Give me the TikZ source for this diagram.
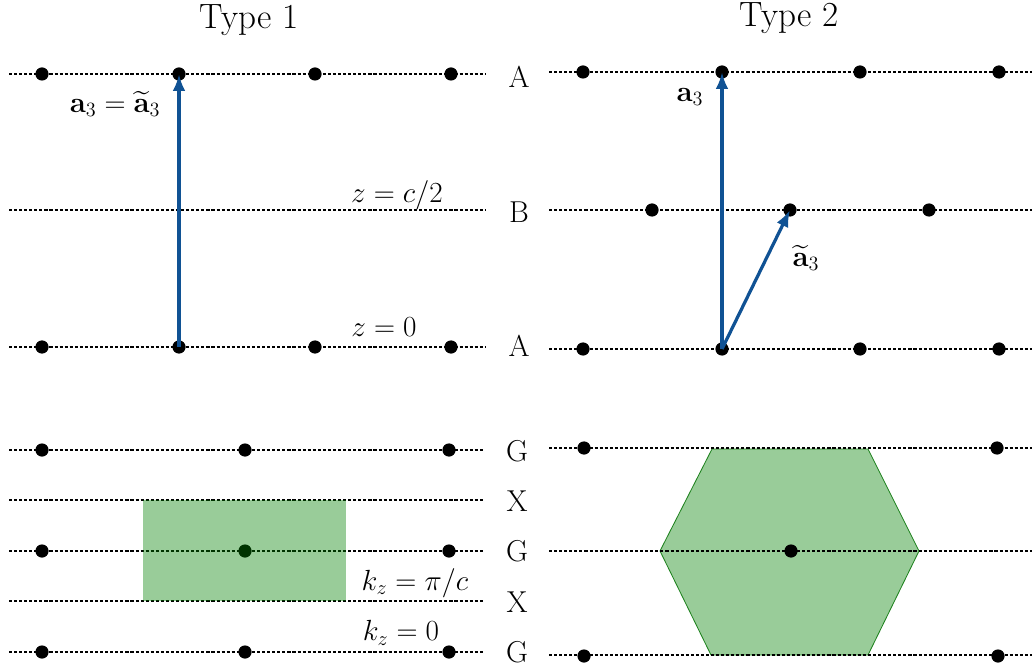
\documentclass[tikz,border=0pt]{standalone}
\usetikzlibrary{arrows.meta}
\usepackage{amsmath}
\definecolor{vecblue}{RGB}{16,82,148}
\definecolor{bzfill}{RGB}{0,128,0}
\definecolor{bzedge}{RGB}{30,130,30}
\begin{document}
\begin{tikzpicture}[x=0.025cm,y=-0.025cm,
  layer/.style={dash pattern=on 2.2pt off 1.4pt, line width=0.9pt},
  site/.style={circle, fill=black, inner sep=0pt, minimum size=0.33cm},
  vec/.style={draw=vecblue, line width=2.3pt, -{Latex[length=12pt,width=9pt]}},
  lab/.style={font=\fontsize{21.5}{24}\selectfont},
  mlab/.style={font=\fontsize{22}{24}\selectfont},
  ttl/.style={font=\fontsize{25}{28}\selectfont}]
\useasboundingbox (0,0) rectangle (1032,669);

% titles
\node[ttl] (t1) at (249,20) {Type 1};
\node[ttl] (t2) at (789,18) {Type 2};

% ---------- Type 1, real space ----------
\coordinate (l1a) at (9,74);  \coordinate (r1a) at (486,74);
\coordinate (l1b) at (9,210); \coordinate (r1b) at (486,210);
\coordinate (l1c) at (9,347); \coordinate (r1c) at (486,347);
\draw[layer] (l1a) -- (r1a);
\draw[layer] (l1b) -- (r1b);
\draw[layer] (l1c) -- (r1c);
\foreach \x [count=\i] in {42,179,315,451} {
  \node[site] (ta\i) at (\x,74) {};
  \node[site] (tc\i) at (\x,347) {};
}
\draw[vec] (tc2.center) -- (ta2.center);
\node[mlab] (lbl1) at (115,104) {$\mathbf{a}_3=\widetilde{\mathbf{a}}_3$};
\node[mlab] (zc) at (397,195) {$z=c/2$};
\node[mlab] (z0) at (384,327) {$z=0$};

% layer labels
\node[lab] (LA1) at (519,77) {A};
\node[lab] (LB)  at (519,212) {B};
\node[lab] (LA2) at (519,346) {A};

% ---------- Type 2, real space ----------
\coordinate (l2a) at (549,72);  \coordinate (r2a) at (1032,72);
\coordinate (l2b) at (549,210); \coordinate (r2b) at (1032,210);
\coordinate (l2c) at (549,349); \coordinate (r2c) at (1032,349);
\draw[layer] (l2a) -- (r2a);
\draw[layer] (l2b) -- (r2b);
\draw[layer] (l2c) -- (r2c);
\foreach \x [count=\i] in {583,722,860,999} {
  \node[site] (sa\i) at (\x,72) {};
  \node[site] (sc\i) at (\x,349) {};
}
\foreach \x [count=\i] in {652,790,929} {
  \node[site] (sb\i) at (\x,210) {};
}
\draw[vec] (sc2.center) -- (sa2.center);
\draw[vec] (sc2.center) -- (sb2.center);
\node[mlab] (lbl2) at (690,97) {$\mathbf{a}_3$};
\node[mlab] (lbl3) at (806,258) {$\widetilde{\mathbf{a}}_3$};

% ---------- Type 1, reciprocal space ----------
\foreach \y/\n in {450/g1,500/x1,551/g2,601/x2,652/g3} {
  \coordinate (L\n) at (9,\y); \coordinate (R\n) at (483,\y);
  \draw[layer] (L\n) -- (R\n);
}
\foreach \x [count=\i] in {42,245,449} {
  \node[site] (ga\i) at (\x,450) {};
  \node[site] (gb\i) at (\x,551) {};
  \node[site] (gc\i) at (\x,652) {};
}
\fill[bzfill, fill opacity=0.4] (143,500) rectangle (346,601);
\node[mlab] (kpi) at (415,583) {$k_z=\pi/c$};
\node[mlab] (k0) at (401,633) {$k_z=0$};
\node[lab] (G1) at (517,451) {G};
\node[lab] (X1) at (517,501) {X};
\node[lab] (G2) at (517,551) {G};
\node[lab] (X2) at (517,602) {X};
\node[lab] (G3) at (517,652) {G};

% ---------- Type 2, reciprocal space ----------
\fill[bzfill, fill opacity=0.4, draw=bzedge, draw opacity=1, line width=0.6pt]
  (712,449) -- (868,449) -- (919,551) -- (868,655) -- (711,655) -- (660,551) -- cycle;
\foreach \y/\n in {448/h1,551/h2,655/h3} {
  \coordinate (L\n) at (549,\y); \coordinate (R\n) at (1032,\y);
  \draw[layer] (L\n) -- (R\n);
}
\node[site] (ha1) at (584,448) {};
\node[site] (ha2) at (997,448) {};
\node[site] (hb)  at (791,551) {};
\node[site] (hc1) at (584,656) {};
\node[site] (hc2) at (998,656) {};
\end{tikzpicture}
\end{document}
